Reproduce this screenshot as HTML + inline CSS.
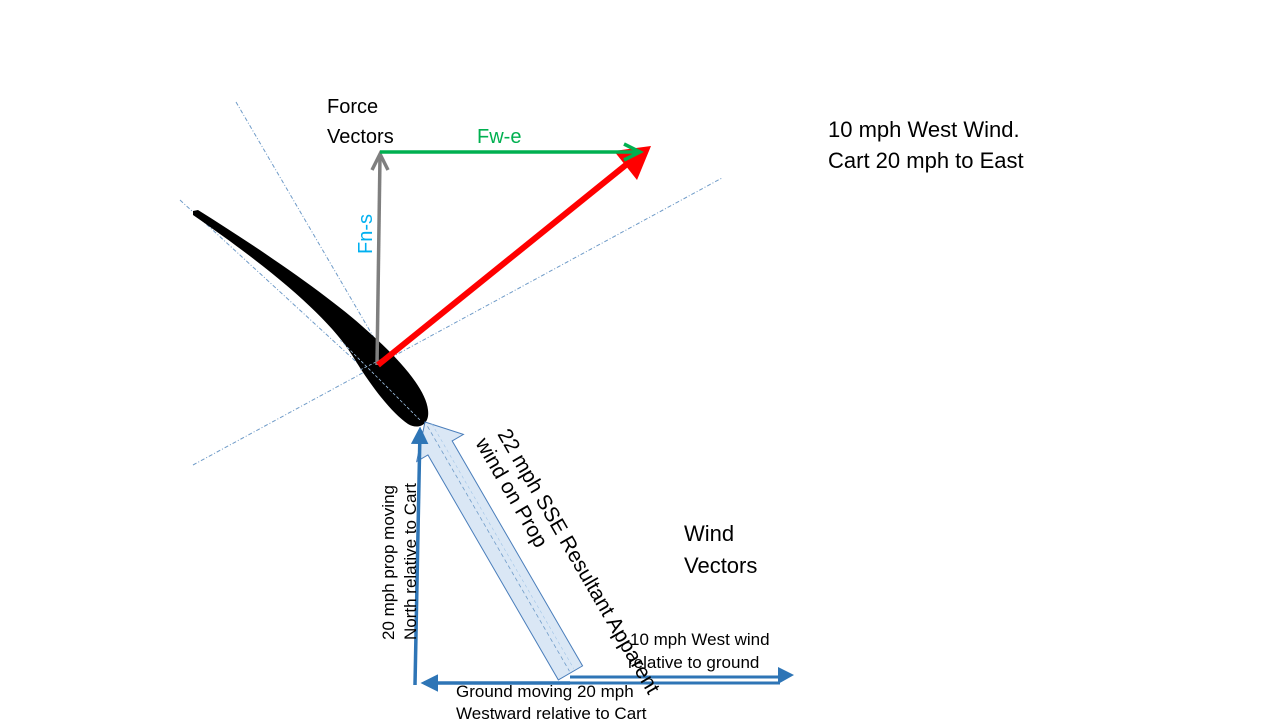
<!DOCTYPE html>
<html><head><style>
body{margin:0;background:#fff;}
svg{display:block;font-family:"Liberation Sans",Calibri,sans-serif;}
</style></head><body>
<svg width="1280" height="720" viewBox="0 0 1280 720" xmlns="http://www.w3.org/2000/svg">
<defs>
<marker id="ab" viewBox="0 0 10 10" refX="8" refY="5" markerWidth="5" markerHeight="5" orient="auto-start-reverse"><path d="M0,0 L10,5 L0,10 z" fill="#2e75b6"/></marker>
</defs>
<g stroke="#6f9bc8" stroke-width="1" fill="none" stroke-dasharray="4,2,1,2">
<line x1="236" y1="102" x2="425" y2="425"/>
<line x1="180" y1="200" x2="425" y2="425"/>
<line x1="193" y1="465" x2="722" y2="178"/>
</g>
<path d="M193,211 L198,210 C265,252 335,300 372,335 C402,362 426,390 428,410 C430,425 418,430 408,424 C392,413 372,388 352,355 C330,320 280,275 193,215 Z" fill="#000"/>
<g stroke="#9fc3e6" stroke-width="0.8" stroke-dasharray="3,2" fill="none">
<line x1="340" y1="340" x2="420" y2="420"/>
<line x1="360" y1="370" x2="400" y2="350"/>
</g>
<line x1="377" y1="365" x2="380" y2="156" stroke="#7f7f7f" stroke-width="3.5"/>
<polyline points="372,170 380,154 388,170" stroke="#7f7f7f" stroke-width="3.5" fill="none"/>
<line x1="378" y1="365" x2="632" y2="160" stroke="#ff0000" stroke-width="6"/>
<polygon points="651,146 637,180 614,151" fill="#ff0000"/>
<line x1="380" y1="152" x2="638" y2="152" stroke="#00b050" stroke-width="3.5"/>
<polyline points="624,144 640,152 624,160" stroke="#00b050" stroke-width="3.5" fill="none"/>
<g transform="translate(425,422) rotate(59.9)">
<polygon points="0,0 30,-27 30,-14 290,-14 290,14 30,14 30,27" fill="#dae7f5" stroke="#4a7ebb" stroke-width="1"/>
<line x1="5" y1="0" x2="288" y2="0" stroke="#6f9bc8" stroke-dasharray="4,3" stroke-width="0.8"/>
<line x1="5" y1="-5" x2="288" y2="-5" stroke="#9fc3e6" stroke-dasharray="3,3" stroke-width="0.6"/>
</g>
<line x1="415" y1="685" x2="420" y2="430" stroke="#2e75b6" stroke-width="3.5" marker-end="url(#ab)"/>
<line x1="570" y1="683" x2="424" y2="683" stroke="#2e75b6" stroke-width="3.5" marker-end="url(#ab)"/>
<line x1="570" y1="677" x2="780" y2="677" stroke="#2e75b6" stroke-width="3"/>
<line x1="570" y1="683" x2="780" y2="683" stroke="#2e75b6" stroke-width="3"/>
<polygon points="794,675 778,667 778,684" fill="#2e75b6"/>
<g font-size="20" fill="#000">
<text x="327" y="113">Force</text>
<text x="327" y="143">Vectors</text>
<text x="477" y="143" fill="#00b050">Fw-e</text>
<text transform="translate(372,254) rotate(-90)" fill="#00b0f0">Fn-s</text>
</g>
<g font-size="22" fill="#000">
<text x="828" y="137">10 mph West Wind.</text>
<text x="828" y="168">Cart 20 mph to East</text>
<text x="684" y="541">Wind</text>
<text x="684" y="573">Vectors</text>
</g>
<g font-size="21" fill="#000">
<text transform="translate(497,434) rotate(59.9)">22 mph SSE Resultant Apparent</text>
<text transform="translate(475,443) rotate(59.9)">wind on Prop</text>
</g>
<g font-size="17" fill="#000">
<text transform="translate(394,640) rotate(-90)">20 mph prop moving</text>
<text transform="translate(416,640) rotate(-90)">North relative to Cart</text>
<text x="630" y="645">10 mph West wind</text>
<text x="628" y="668">relative to ground</text>
<text x="456" y="697">Ground moving 20 mph</text>
<text x="456" y="719">Westward relative to Cart</text>
</g>
</svg>
</body></html>
